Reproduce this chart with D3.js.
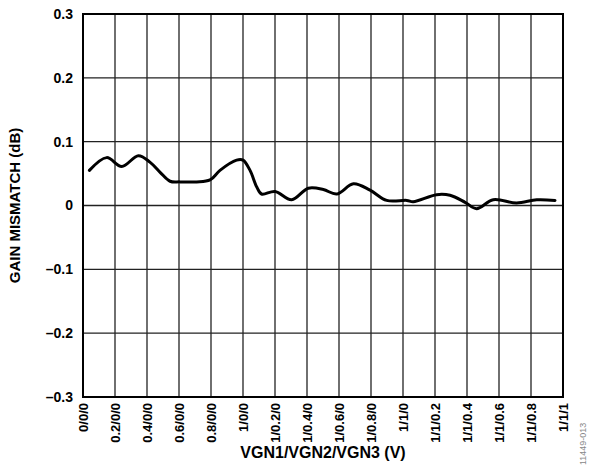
<!DOCTYPE html>
<html>
<head>
<meta charset="utf-8">
<script src="https://cdn.jsdelivr.net/npm/d3@7"></script>
<style>
  body { margin: 0; background: #fff; }
  svg { display: block; font-family: "Liberation Sans", Arial, sans-serif; }
</style>
</head>
<body>
<svg id="chart" width="590" height="467"></svg>
<script>
// x position in grid steps (one step = one control label), y = gain mismatch (dB)
const stepPos = [0.20, 0.74, 1.21, 1.73, 2.09, 2.41, 2.72, 3.03, 3.55, 3.97, 4.28, 4.80, 5.00,
  5.22, 5.43, 5.58, 6.00, 6.52, 7.04, 7.51, 7.93, 8.45, 8.97, 9.49, 10.12, 10.32, 11.05,
  11.47, 11.94, 12.30, 12.82, 13.55, 14.18, 14.75];
const mismatch = [0.055, 0.075, 0.061, 0.078, 0.068, 0.052, 0.038, 0.037, 0.037, 0.040, 0.055,
  0.071, 0.071, 0.055, 0.029, 0.018, 0.022, 0.009, 0.027, 0.025, 0.018, 0.034, 0.024, 0.008,
  0.008, 0.006, 0.017, 0.016, 0.005, -0.005, 0.009, 0.004, 0.009, 0.008];
const xLabels = ["0/0/0", "0.2/0/0", "0.4/0/0", "0.6/0/0", "0.8/0/0", "1/0/0", "1/0.2/0",
  "1/0.4/0", "1/0.6/0", "1/0.8/0", "1/1/0", "1/1/0.2", "1/1/0.4", "1/1/0.6", "1/1/0.8", "1/1/1"];
const yTicks = [-0.3, -0.2, -0.1, 0, 0.1, 0.2, 0.3];

const margin = { top: 14, right: 27, bottom: 70, left: 83 },
  w = 590 - margin.left - margin.right,
  h = 467 - margin.top - margin.bottom;

const svg = d3.select("#chart");
const g = svg.append("g").attr("transform", `translate(${margin.left}, ${margin.top})`);

const x = d3.scaleLinear().domain([0, xLabels.length - 1]).range([0, w]);
const y = d3.scaleLinear().domain([-0.3, 0.3]).range([h, 0]);

// grid
g.append("g")
  .selectAll("line")
  .data(d3.range(xLabels.length))
  .join("line")
  .attr("x1", d => x(d)).attr("x2", d => x(d))
  .attr("y1", 0).attr("y2", h)
  .attr("stroke", "#222").attr("stroke-width", 1.3);

g.append("g")
  .selectAll("line")
  .data(yTicks)
  .join("line")
  .attr("x1", 0).attr("x2", w)
  .attr("y1", d => y(d)).attr("y2", d => y(d))
  .attr("stroke", "#222").attr("stroke-width", 1.3);

// axes
const fmt = d => d < 0 ? "\u2013" + Math.abs(d).toFixed(1) : (d === 0 ? "0" : d.toFixed(1));

const yAxis = g.append("g")
  .call(d3.axisLeft(y).tickValues(yTicks).tickSize(0).tickPadding(10).tickFormat(fmt));
yAxis.select(".domain").remove();
yAxis.selectAll("text")
  .attr("font-size", 14).attr("font-weight", "bold").attr("fill", "#000")
  .attr("font-family", "Liberation Sans, Arial, sans-serif");

const xAxis = g.append("g")
  .attr("transform", `translate(0, ${h})`)
  .call(d3.axisBottom(x).tickValues(d3.range(xLabels.length)).tickSize(0).tickFormat(i => xLabels[i]));
xAxis.select(".domain").remove();
xAxis.selectAll("text")
  .attr("font-size", 13).attr("font-weight", "bold").attr("fill", "#000")
  .attr("font-family", "Liberation Sans, Arial, sans-serif")
  .attr("text-anchor", "end")
  .attr("dy", "0.35em")
  .attr("transform", "rotate(-90) translate(-6, 0)")
  .attr("x", 0).attr("y", 0);

// frame
g.append("rect")
  .attr("x", 0).attr("y", 0).attr("width", w).attr("height", h)
  .attr("fill", "none").attr("stroke", "#000").attr("stroke-width", 2);

// curve
const line = d3.line()
  .x((d, i) => x(stepPos[i]))
  .y(d => y(d))
  .curve(d3.curveCatmullRom.alpha(0.5));

g.append("path")
  .datum(mismatch)
  .attr("d", line)
  .attr("fill", "none")
  .attr("stroke", "#000")
  .attr("stroke-width", 3)
  .attr("stroke-linejoin", "round")
  .attr("stroke-linecap", "round");

// titles
g.append("text")
  .attr("x", w / 2)
  .attr("y", h + 61)
  .attr("text-anchor", "middle")
  .attr("font-size", 16).attr("font-weight", "bold")
  .text("VGN1/VGN2/VGN3 (V)");

g.append("text")
  .attr("transform", `translate(${-margin.left + 20}, ${h / 2}) rotate(-90)`)
  .attr("text-anchor", "middle")
  .attr("font-size", 15).attr("font-weight", "bold")
  .text("GAIN MISMATCH (dB)");

svg.append("text")
  .attr("transform", "translate(586, 465) rotate(-90)")
  .attr("text-anchor", "start")
  .attr("font-size", 9).attr("fill", "#888")
  .text("11449-013");
</script>
</body>
</html>
